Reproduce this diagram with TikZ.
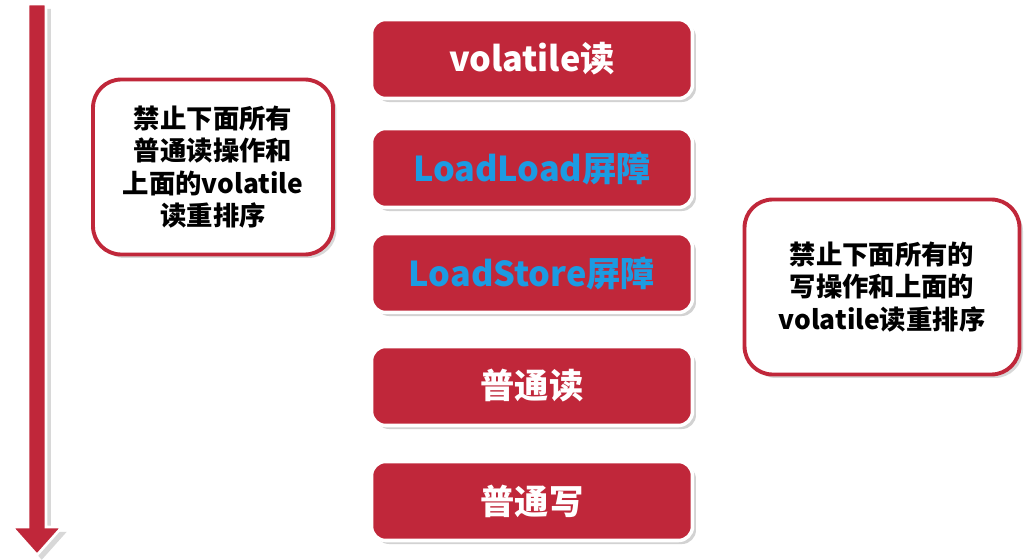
\documentclass[tikz,border=0pt]{standalone}
\usepackage{fontspec}
\setmainfont{Noto Sans CJK SC}
\usetikzlibrary{shadows}
\definecolor{myred}{HTML}{C0273A}
\definecolor{myblue}{HTML}{1C9BE2}
\tikzset{
 redbox/.style={draw=white, line width=2pt, fill=myred, rounded corners=8pt, minimum width=6.42cm, minimum height=1.58cm, font=\fontsize{19.5}{22}\selectfont\bfseries, text=white, drop shadow={opacity=0.35, shadow xshift=2pt, shadow yshift=-2pt}},
 note/.style={draw=myred, line width=2.2pt, fill=white, rounded corners=16pt, align=center, font=\fontsize{15}{18.5}\selectfont\bfseries, drop shadow={opacity=0.3, shadow xshift=2pt, shadow yshift=-2pt}},
}
\begin{document}
\begin{tikzpicture}[x=0.02cm,y=-0.02cm]
\useasboundingbox (0,0) rectangle (1027,560);
\fill[white] (0,0) rectangle (1027,560);
% arrow
\draw[fill=myred, draw=white, line width=1.5pt, drop shadow={opacity=0.3}] (28,4) -- (46,4) -- (46,527) -- (62,527) -- (37,555) -- (12,527) -- (28,527) -- cycle;
\node[redbox] (b1) at (532,59) {volatile读};
\node[redbox, text=myblue] (b2) at (532,168) {LoadLoad屏障};
\node[redbox, text=myblue] (b3) at (532,273) {LoadStore屏障};
\node[redbox] (b4) at (532,386) {普通读};
\node[redbox] (b5) at (532,501) {普通写};
\node[note, minimum width=4.8cm, minimum height=3.5cm] (n1) at (213,167) {禁止下面所有\\普通读操作和\\上面的volatile\\读重排序};
\node[note, minimum width=5.5cm, minimum height=3.5cm] (n2) at (882,287) {禁止下面所有的\\写操作和上面的\\volatile读重排序};
\end{tikzpicture}
\end{document}
